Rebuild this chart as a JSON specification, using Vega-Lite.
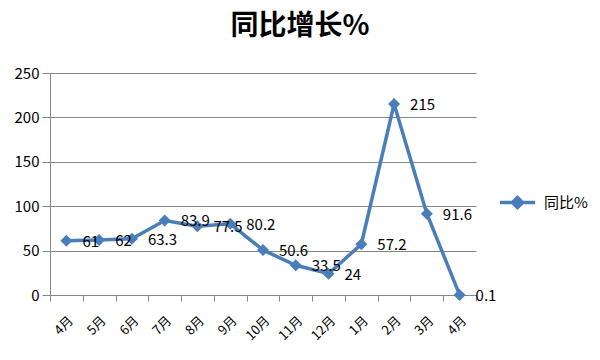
{
  "$schema": "https://vega.github.io/schema/vega-lite/v6.json",
  "autosize": "none",
  "width": 426,
  "height": 222,
  "padding": {"left": 50, "top": 73, "right": 124, "bottom": 65},
  "background": "white",
  "config": {"view": {"stroke": null}, "font": "Noto Sans CJK SC"},
  "title": {"text": "同比增长%", "fontSize": 28, "fontWeight": "bold", "font": "Noto Sans CJK SC", "color": "#000", "anchor": "middle", "dx": 37, "offset": 25},
  "data": {"values": [
    {"seq": 0, "month": "4月", "value": 61},
    {"seq": 1, "month": "5月", "value": 62},
    {"seq": 2, "month": "6月", "value": 63.3},
    {"seq": 3, "month": "7月", "value": 83.9},
    {"seq": 4, "month": "8月", "value": 77.5},
    {"seq": 5, "month": "9月", "value": 80.2},
    {"seq": 6, "month": "10月", "value": 50.6},
    {"seq": 7, "month": "11月", "value": 33.5},
    {"seq": 8, "month": "12月", "value": 24},
    {"seq": 9, "month": "1月", "value": 57.2},
    {"seq": 10, "month": "2月", "value": 215},
    {"seq": 11, "month": "3月", "value": 91.6},
    {"seq": 12, "month": "4月", "value": 0.1}
  ]},
  "encoding": {
    "x": {"field": "seq", "type": "ordinal", "scale": {"paddingInner": 0, "paddingOuter": 0},
      "axis": {"title": null, "labelExpr": "split('4月,5月,6月,7月,8月,9月,10月,11月,12月,1月,2月,3月,4月', ',')[datum.value]", "labelAngle": -45, "labelFontSize": 13, "labelColor": "#000", "labelPadding": 13, "tickBand": "extent", "tickSize": 6, "tickColor": "#868686", "domainColor": "#868686", "grid": false}},
    "y": {"field": "value", "type": "quantitative", "scale": {"domain": [0, 250]},
      "axis": {"title": null, "values": [0, 50, 100, 150, 200, 250], "labelFontSize": 15, "labelColor": "#000", "labelPadding": 3, "tickSize": 8, "tickColor": "#868686", "domainColor": "#868686", "gridColor": "#868686", "gridOpacity": 1}}
  },
  "layer": [
    {"mark": {"type": "line", "strokeWidth": 3.5},
     "encoding": {"color": {"datum": "同比%", "scale": {"domain": ["同比%"], "range": ["#4a7ebb"]},
       "legend": {"title": null, "orient": "none", "legendX": 448, "legendY": 110, "padding": 0, "labelFontSize": 15, "labelColor": "#000", "labelOffset": 7, "symbolType": "M-1,0L1,0M0,-0.29L0.29,0L0,0.29L-0.29,0Z", "symbolSize": 1225, "symbolStrokeWidth": 3.5, "symbolFillColor": "#4a7ebb", "symbolStrokeColor": "#4a7ebb",
         "encode": {"symbols": {"update": {"fill": {"value": "#4a7ebb"}, "stroke": {"value": "#4a7ebb"}, "strokeWidth": {"value": 3.5}, "opacity": {"value": 1}}}}}}}},
    {"mark": {"type": "point", "shape": "diamond", "filled": true, "size": 144, "color": "#4a7ebb", "opacity": 1}},
    {"mark": {"type": "text", "align": "left", "baseline": "middle", "dx": 16, "dy": 1, "fontSize": 15, "color": "#000"},
     "encoding": {"text": {"field": "value", "type": "nominal"}}}
  ]
}
